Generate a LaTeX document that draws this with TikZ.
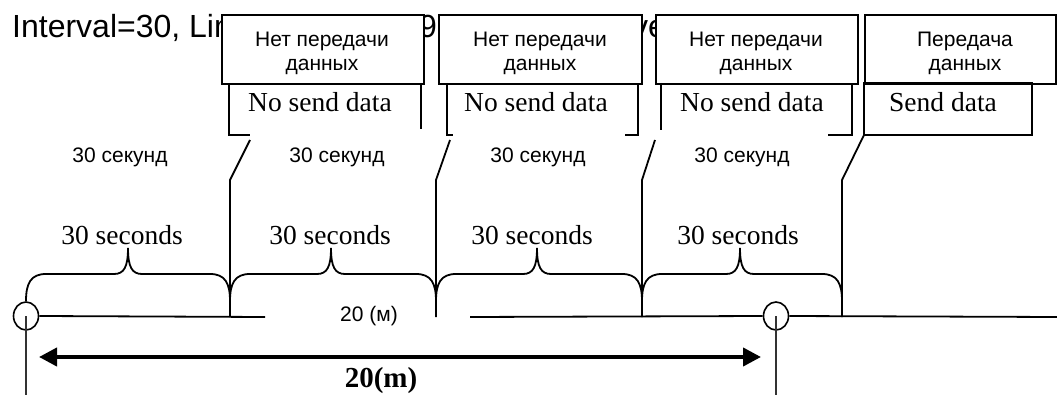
\documentclass[tikz,border=0pt]{standalone}
\usepackage{fontspec}
\setmainfont{Liberation Serif}
\newfontfamily\arialf{Liberation Sans}
\usetikzlibrary{arrows.meta,shapes.geometric}
\begin{document}
\begin{tikzpicture}[x=1pt,y=-1pt,
  rubox/.style={draw, fill=white, line width=1.7pt, minimum height=69pt, inner sep=0pt, anchor=north west},
  rutext/.style={font=\arialf\fontsize{21}{24}\selectfont, align=center, inner sep=0pt},
  rulabel/.style={font=\arialf\fontsize{21}{24}\selectfont, inner sep=0pt, anchor=base},
  enlabel/.style={font=\fontsize{27.5}{30}\selectfont, inner sep=0pt, anchor=base},
  titlef/.style={font=\arialf\fontsize{32}{36}\selectfont, inner sep=0pt, anchor=base west},
  ln/.style={line width=1.8pt},
  pt/.style={ellipse, draw, fill=white, line width=1.6pt, minimum width=25pt, minimum height=28pt, inner sep=0pt},
  bigarrow/.style={line width=4pt, {Triangle[length=18pt,width=18pt]}-{Triangle[length=18pt,width=18pt]}},
]
\useasboundingbox (0,0) rectangle (1057,395);

% title fragments (partly covered by the boxes)
\node[titlef] (title) at (12,38) {Interval=30, Lim};
\node[titlef] (tfrag1) at (419,38) {9};
\node[titlef] (tfrag2) at (632,38) {ve};

% top boxes
\node[rubox, minimum width=202pt] (b1) at (221,14) {};
\node[rubox, minimum width=203pt] (b2) at (438,14) {};
\node[rubox, minimum width=202pt] (b3) at (655,14) {};
\node[rubox, minimum width=191pt] (b4) at (864,14) {};
\node[rutext] (b1t) at (322,53) {Нет передачи\\данных};
\node[rutext] (b2t) at (540,53) {Нет передачи\\данных};
\node[rutext] (b3t) at (756,53) {Нет передачи\\данных};
\node[rutext] (b4t) at (965,53) {Передача\\данных};

% brackets of the original boxes
\draw[ln] (229,83) -- (229,135) -- (250,135);
\draw[ln] (421,83) -- (421,129);
\draw[ln] (447,83) -- (447,135) -- (453,135);
\draw[ln] (625,135) -- (638,135) -- (638,83);
\draw[ln] (661,83) -- (661,130);
\draw[ln] (828,135) -- (852,135) -- (852,83);
\draw[ln] (864,83) rectangle (1032,135);

\node[enlabel] (e1) at (320,112) {No send data};
\node[enlabel] (e2) at (536,112) {No send data};
\node[enlabel] (e3) at (752,112) {No send data};
\node[enlabel] (e4) at (943,112) {Send data};

% Russian interval labels
\node[rulabel] (r1) at (120,163) {30 секунд};
\node[rulabel] (r2) at (337,163) {30 секунд};
\node[rulabel] (r3) at (538,163) {30 секунд};
\node[rulabel] (r4) at (742,163) {30 секунд};

% axis with points
\node[pt] (c1) at (26,316) {};
\node[pt] (c2) at (776,316) {};
\coordinate (g1) at (265,317);
\coordinate (g2) at (470,317);
\coordinate (aend) at (1057,317);
\draw[ln] (c1.east) -- (g1);
\draw[ln] (g2) -- (c2.west);
\draw[ln] (c2.east) -- (aend);
\node[rulabel] (dist) at (369,321) {20 (м)};

% separators from boxes to axis
\coordinate (k1) at (250,140); \coordinate (m1) at (230,180); \coordinate (t1) at (230,317);
\coordinate (k2) at (450,140); \coordinate (m2) at (436,180); \coordinate (t2) at (436,317);
\coordinate (k3) at (655,140); \coordinate (m3) at (642,180); \coordinate (t3) at (642,317);
\coordinate (k4) at (864,135); \coordinate (m4) at (842,180); \coordinate (t4) at (842,317);
\draw[ln] (k1) -- (m1) -- (t1);
\draw[ln] (k2) -- (m2) -- (t2);
\draw[ln] (k3) -- (m3) -- (t3);
\draw[ln] (k4) -- (m4) -- (t4);

% braces
\foreach \a/\t/\b in {26/128/230, 230/331/436, 436/537/642, 642/740/842} {
  \draw[ln] (\a,301) .. controls (\a,283) and (\a+5,274) .. (\a+20,274)
     -- (\t-14,274) .. controls (\t-4,274) and (\t,267) .. (\t,248)
     .. controls (\t,267) and (\t+4,274) .. (\t+14,274)
     -- (\b-20,274) .. controls (\b-5,274) and (\b,283) .. (\b,301);
}
\node[enlabel] (s1) at (122,245) {30 seconds};
\node[enlabel] (s2) at (330,245) {30 seconds};
\node[enlabel] (s3) at (532,245) {30 seconds};
\node[enlabel] (s4) at (738,245) {30 seconds};

% verticals under the points
\coordinate (v1) at (26,395);
\coordinate (v2) at (776,395);
\draw[line width=1.5pt, black!80] (c1.center) -- (v1);
\draw[line width=1.5pt, black!80] (c2.center) -- (v2);

% distance arrow
\coordinate (a1) at (39,357);
\coordinate (a2) at (761,357);
\draw[bigarrow] (a1) -- (a2);
\node[enlabel, font=\bfseries\fontsize{29}{32}\selectfont] (dm) at (381,387) {20(m)};
\end{tikzpicture}
\end{document}
